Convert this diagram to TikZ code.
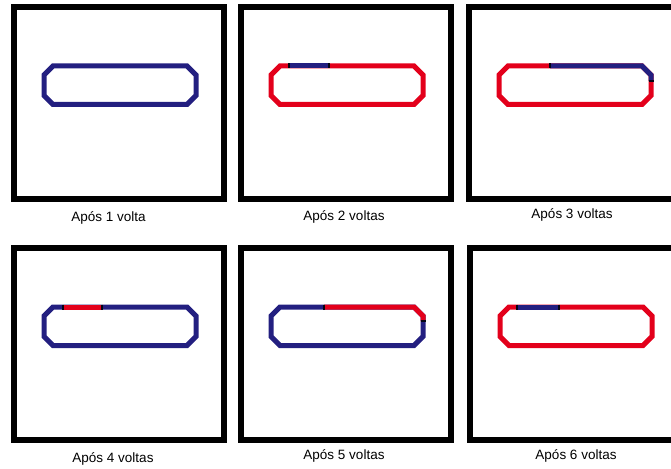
\documentclass[tikz,border=0pt]{standalone}
\usepackage{fontspec}
\setmainfont{Liberation Sans}
\usepackage{tikz}
\definecolor{trkblue}{RGB}{35,31,128}
\definecolor{trkred}{RGB}{227,0,27}
\tikzset{
	frm/.style={draw=black, line width=6pt},
	trk/.style={line width=5pt, line join=miter},
	blu/.style={trk, draw=trkblue},
	rd/.style={trk, draw=trkred},
	tck/.style={draw=black!85!trkblue, line width=1.6pt},
	lbl/.style={anchor=base, inner sep=0pt, font=\fontsize{13.5}{16}\selectfont},
	looppath/.style={insert path={(39,59) -- (173,59) -- (182,68) -- (182,88.5) -- (173,97.5) -- (39,97.5) -- (30,88.5) -- (30,68) -- cycle}},
}

\begin{document}
\begin{tikzpicture}[x=1pt, y=-1pt]
	\useasboundingbox (0,0) rectangle (671,468);
	% top row
	\begin{scope}[shift={(14,7)}]
		\draw[frm] (0,0) rectangle (210,192);
		\draw[blu, looppath];
	\end{scope}
	\begin{scope}[shift={(241,7)}]
		\draw[frm] (0,0) rectangle (210,192);
		\draw[rd, looppath];
		\draw[blu] (48,59) -- (88,59);
		\draw[tck] (48,56.5) -- (48,61.5);
		\draw[tck] (88,56.5) -- (88,61.5);
	\end{scope}
	\begin{scope}[shift={(469,7)}]
		\draw[frm] (0,0) rectangle (210,192);
		\draw[rd, looppath];
		\draw[blu] (81,59) -- (173,59) -- (182,68) -- (182,74);
		\draw[tck] (81,56.5) -- (81,61.5);
		\draw[tck] (179.5,74) -- (184.5,74);
	\end{scope}
	% bottom row
	\begin{scope}[shift={(14,248)}]
		\draw[frm] (0,0) rectangle (210,192);
		\draw[blu, looppath];
		\draw[rd] (49,59) -- (88,59);
		\draw[tck] (49,56.5) -- (49,61.5);
		\draw[tck] (88,56.5) -- (88,61.5);
	\end{scope}
	\begin{scope}[shift={(241,248)}]
		\draw[frm] (0,0) rectangle (210,192);
		\draw[blu, looppath];
		\draw[rd] (83,59) -- (173,59) -- (182,68) -- (182,73);
		\draw[tck] (83,56.5) -- (83,61.5);
		\draw[tck] (179.5,73) -- (184.5,73);
	\end{scope}
	\begin{scope}[shift={(470,248)}]
		\draw[frm] (0,0) rectangle (210,192);
		\draw[rd, looppath];
		\draw[blu] (47,59) -- (89,59);
		\draw[tck] (47,56.5) -- (47,61.5);
		\draw[tck] (89,56.5) -- (89,61.5);
	\end{scope}
	% captions
	\node[lbl] (cap1) at (108.5,221) {Após 1 volta};
	\node[lbl] (cap2) at (344,220) {Após 2 voltas};
	\node[lbl] (cap3) at (572,218.5) {Após 3 voltas};
	\node[lbl] (cap4) at (113,462.5) {Após 4 voltas};
	\node[lbl] (cap5) at (344,459) {Após 5 voltas};
	\node[lbl] (cap6) at (576,459) {Após 6 voltas};
\end{tikzpicture}
\end{document}
